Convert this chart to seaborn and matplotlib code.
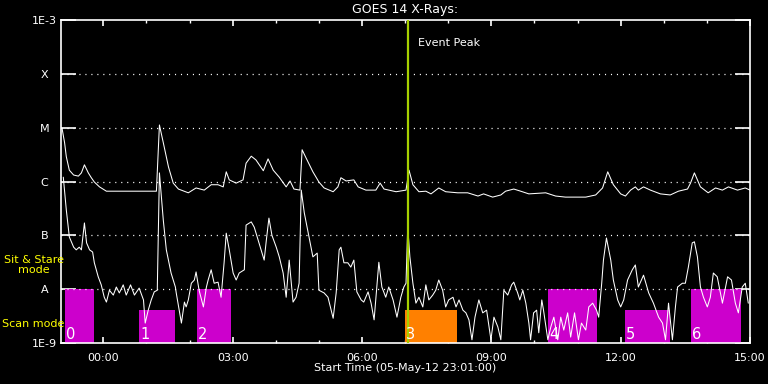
import matplotlib
matplotlib.use("Agg")
import matplotlib.pyplot as plt
import matplotlib.ticker as mticker
import numpy as np
import pandas as pd
import seaborn as sns

# time in hours after 00:00 on 06-May-12 (plot starts 05-May-12 23:01)
# flux given as log10(W/m^2)
long_t = [-0.96, -0.90, -0.86, -0.79, -0.69, -0.58, -0.51, -0.44, -0.35, -0.28,
          -0.21, -0.09, 0.07, 0.46, 0.83, 1.23, 1.30, 1.39, 1.51, 1.62,
          1.74, 1.97, 2.15, 2.34, 2.50, 2.66, 2.78, 2.85, 2.92, 3.08,
          3.24, 3.31, 3.43, 3.54, 3.71, 3.82, 3.94, 4.08, 4.24, 4.33,
          4.42, 4.56, 4.61, 4.70, 4.86, 5.00, 5.12, 5.33, 5.44, 5.51,
          5.63, 5.81, 5.91, 6.09, 6.32, 6.42, 6.51, 6.79, 7.02, 7.09,
          7.18, 7.32, 7.48, 7.60, 7.78, 7.94, 8.22, 8.45, 8.69, 8.82,
          9.03, 9.22, 9.33, 9.52, 9.68, 9.87, 10.26, 10.49, 10.72, 11.19,
          11.42, 11.58, 11.70, 11.83, 12.00, 12.11, 12.23, 12.34, 12.41, 12.53,
          12.69, 12.92, 13.15, 13.34, 13.55, 13.62, 13.71, 13.85, 14.03, 14.20,
          14.36, 14.50, 14.71, 14.89, 15.00]
long_logf = [-5.01, -5.28, -5.54, -5.79, -5.88, -5.90, -5.84, -5.69, -5.84, -5.93,
             -6.01, -6.10, -6.18, -6.18, -6.18, -6.18, -4.95, -5.28, -5.73, -6.03,
             -6.14, -6.21, -6.12, -6.16, -6.06, -6.06, -6.10, -5.82, -5.97, -6.03,
             -5.97, -5.66, -5.53, -5.60, -5.80, -5.58, -5.79, -5.92, -6.10, -5.99,
             -6.14, -6.16, -5.41, -5.56, -5.82, -6.01, -6.12, -6.19, -6.10, -5.93,
             -5.99, -5.97, -6.10, -6.16, -6.16, -6.03, -6.14, -6.19, -6.16, -5.79,
             -6.06, -6.19, -6.18, -6.23, -6.12, -6.19, -6.21, -6.21, -6.27, -6.23,
             -6.29, -6.25, -6.18, -6.14, -6.18, -6.23, -6.21, -6.27, -6.29, -6.29,
             -6.25, -6.12, -5.82, -6.06, -6.23, -6.27, -6.16, -6.10, -6.16, -6.10,
             -6.16, -6.23, -6.25, -6.18, -6.14, -6.03, -5.84, -6.10, -6.21, -6.12,
             -6.16, -6.10, -6.16, -6.12, -6.16]

short_t = [-0.93, -0.86, -0.79, -0.69, -0.63, -0.56, -0.51, -0.44, -0.39, -0.32,
           -0.25, -0.21, -0.12, -0.05, 0.02, 0.07, 0.14, 0.23, 0.30, 0.37,
           0.46, 0.53, 0.63, 0.72, 0.83, 0.93, 0.97, 1.04, 1.11, 1.18,
           1.25, 1.30, 1.39, 1.46, 1.57, 1.67, 1.69, 1.76, 1.81, 1.88,
           1.92, 1.97, 2.04, 2.11, 2.15, 2.22, 2.32, 2.39, 2.43, 2.50,
           2.57, 2.66, 2.73, 2.80, 2.85, 2.92, 3.01, 3.08, 3.15, 3.27,
           3.31, 3.43, 3.50, 3.61, 3.73, 3.78, 3.84, 3.91, 4.01, 4.08,
           4.17, 4.24, 4.31, 4.40, 4.47, 4.54, 4.59, 4.66, 4.77, 4.86,
           4.96, 5.00, 5.12, 5.21, 5.33, 5.40, 5.47, 5.51, 5.58, 5.67,
           5.74, 5.81, 5.88, 5.98, 6.04, 6.14, 6.21, 6.28, 6.35, 6.39,
           6.46, 6.55, 6.62, 6.72, 6.81, 6.90, 6.97, 7.02, 7.06, 7.11,
           7.18, 7.25, 7.32, 7.41, 7.48, 7.55, 7.64, 7.71, 7.78, 7.87,
           7.94, 8.01, 8.11, 8.18, 8.25, 8.34, 8.41, 8.48, 8.55, 8.62,
           8.71, 8.80, 8.89, 8.99, 9.06, 9.15, 9.22, 9.29, 9.38, 9.47,
           9.52, 9.61, 9.66, 9.73, 9.80, 9.87, 9.91, 9.98, 10.05, 10.10,
           10.17, 10.21, 10.31, 10.38, 10.45, 10.54, 10.61, 10.68, 10.77, 10.84,
           10.93, 11.02, 11.09, 11.19, 11.26, 11.35, 11.44, 11.49, 11.56, 11.60,
           11.67, 11.77, 11.83, 11.93, 12.00, 12.07, 12.16, 12.27, 12.34, 12.41,
           12.53, 12.65, 12.76, 12.88, 12.97, 13.04, 13.11, 13.20, 13.27, 13.32,
           13.43, 13.50, 13.57, 13.66, 13.71, 13.78, 13.85, 13.92, 14.01, 14.08,
           14.15, 14.24, 14.36, 14.48, 14.57, 14.66, 14.73, 14.82, 14.89, 14.96]
short_logf = [-5.92, -6.53, -7.03, -7.22, -7.27, -7.22, -7.27, -6.77, -7.14, -7.27,
              -7.31, -7.51, -7.77, -7.92, -8.15, -8.24, -8.02, -8.11, -7.96, -8.07,
              -7.92, -8.11, -7.92, -8.11, -7.98, -8.20, -8.63, -8.39, -8.20, -8.05,
              -8.02, -5.84, -6.72, -7.27, -7.70, -7.96, -8.07, -8.39, -8.63, -8.24,
              -8.33, -8.20, -7.89, -7.83, -7.68, -8.02, -8.33, -7.96, -7.83, -7.64,
              -7.89, -7.87, -8.15, -7.51, -6.96, -7.27, -7.70, -7.83, -7.70, -7.64,
              -6.81, -6.75, -6.85, -7.14, -7.46, -7.09, -6.68, -7.00, -7.22, -7.40,
              -7.70, -8.15, -7.46, -8.24, -8.15, -7.89, -6.16, -6.58, -7.03, -7.40,
              -7.33, -8.02, -8.07, -8.15, -8.54, -8.07, -7.27, -7.22, -7.51, -7.51,
              -7.59, -7.46, -8.05, -8.20, -8.24, -8.05, -8.26, -8.57, -7.89, -7.50,
              -7.96, -8.15, -7.96, -8.20, -8.52, -8.15, -7.96, -7.89, -6.85, -7.40,
              -7.89, -8.26, -8.15, -8.33, -7.92, -8.20, -8.11, -8.02, -7.83, -8.02,
              -8.33, -8.20, -8.15, -8.33, -8.20, -8.39, -8.44, -8.57, -8.94, -8.52,
              -8.20, -8.44, -8.39, -8.94, -8.52, -8.70, -8.94, -8.02, -8.11, -7.92,
              -7.87, -8.07, -8.20, -8.02, -8.26, -8.63, -8.94, -8.44, -8.39, -8.81,
              -8.20, -8.39, -8.94, -8.70, -8.52, -8.94, -8.52, -8.76, -8.44, -8.89,
              -8.44, -8.94, -8.63, -8.76, -8.33, -8.26, -8.39, -8.52, -7.89, -7.46,
              -7.05, -7.46, -7.83, -8.20, -8.33, -8.20, -7.83, -7.64, -7.55, -7.96,
              -7.74, -8.07, -8.26, -8.52, -8.63, -8.94, -8.26, -8.94, -8.33, -7.96,
              -7.89, -7.89, -7.59, -7.14, -7.12, -7.40, -7.96, -8.15, -8.33, -8.15,
              -7.70, -7.77, -8.26, -7.77, -7.83, -8.26, -8.44, -7.96, -7.89, -8.26]

# observing mode blocks (scan mode up to ~4e-9, sit & stare up to A level)
mode_ids = ["0", "1", "2", "3", "4", "5", "6"]
mode_start = [-0.90, 0.83, 2.18, 6.99, 10.31, 12.09, 13.62]
mode_end = [-0.21, 1.67, 2.96, 8.20, 11.46, 13.15, 14.78]
mode_top = [1e-8, 4.1e-9, 1e-8, 4.1e-9, 1e-8, 4.1e-9, 1e-8]
mode_colors = ["#cc00cc", "#cc00cc", "#cc00cc", "#ff8000", "#cc00cc", "#cc00cc", "#cc00cc"]

event_peak = 7.06

level_vals = [1e-9, 1e-8, 1e-7, 1e-6, 1e-5, 1e-4, 1e-3]
level_labels = ["1E-9", "A", "B", "C", "M", "X", "1E-3"]
hour_ticks = [0, 3, 6, 9, 12, 15]
hour_labels = ["00:00", "03:00", "06:00", "09:00", "12:00", "15:00"]

sns.set_style("ticks")
plt.rcParams["font.family"] = ["DejaVu Sans"]
plt.rcParams["lines.scale_dashes"] = False

long_df = pd.DataFrame({"t": long_t, "flux": 10 ** np.array(long_logf)})
short_df = pd.DataFrame({"t": short_t, "flux": 10 ** np.array(short_logf)})

fig = plt.figure(figsize=(7.68, 3.84), dpi=100, facecolor="black")
ax = fig.add_axes([61 / 768, 41 / 384, 689 / 768, 323 / 384])
ax.set_facecolor("black")

# mode blocks
heights = np.array(mode_top) - 1e-9
widths = np.array(mode_end) - np.array(mode_start)
ax.bar(mode_start, heights, width=widths, bottom=1e-9, align="edge",
       color=mode_colors, linewidth=0, zorder=1)
for i, lab in enumerate(mode_ids):
    ax.annotate(lab, xy=(mode_start[i], 1e-9), xytext=(1, 4),
                textcoords="offset pixels", ha="left", va="baseline",
                fontsize=10.5, color="white", zorder=5)

for lev in level_vals[1:-1]:
    ax.axhline(lev, color="white", lw=0.9, dashes=(0.8, 3.5), zorder=2)

sns.lineplot(data=long_df, x="t", y="flux", ax=ax, color="white", lw=0.75,
             estimator=None, sort=False, zorder=3)
sns.lineplot(data=short_df, x="t", y="flux", ax=ax, color="white", lw=0.75,
             estimator=None, sort=False, zorder=3)

ax.axvline(event_peak, color="#a6d000", lw=1.6, zorder=4)
ax.annotate("Event Peak", xy=(event_peak, 1e-3), xytext=(10, -23),
            textcoords="offset pixels", ha="left", va="center",
            fontsize=8, color="white")

ax.set_yscale("log")
ax.set_ylim(1e-9, 1e-3)
ax.set_xlim(-59 / 60, 15)
ax.set_xlabel("")
ax.set_ylabel("")

ax.set_yticks(level_vals)
ax.set_yticklabels(level_labels)
ax.yaxis.set_minor_locator(mticker.NullLocator())
for lbl in ax.get_yticklabels():
    lbl.set_ha("center")
ax.set_xticks(hour_ticks)
ax.set_xticklabels(hour_labels)
ax.xaxis.set_minor_locator(mticker.MultipleLocator(1))

ax.tick_params(axis="y", which="major", direction="in", length=10.5, width=1.2,
               colors="white", left=True, right=True, labelsize=8, pad=12)
ax.tick_params(axis="x", which="major", direction="in", length=4.5, width=1.2,
               colors="white", top=True, bottom=True, labelsize=8, pad=7)
ax.tick_params(axis="x", which="minor", direction="in", length=2.5, width=1.0,
               colors="white", top=True, bottom=True)
for sp in ax.spines.values():
    sp.set_color("white")
    sp.set_linewidth(1.2)

fig.text(405 / 768, 1 - 10 / 384, "GOES 14 X-Rays:", ha="center", va="center",
         color="white", fontsize=9)
fig.text(405 / 768, 1 - 368 / 384, "Start Time (05-May-12 23:01:00)",
         ha="center", va="center", color="white", fontsize=8)
fig.text(34 / 768, 1 - 265 / 384, "Sit & Stare\nmode", ha="center", va="center",
         color="yellow", fontsize=8, linespacing=1.1)
fig.text(2 / 768, 1 - 324 / 384, "Scan mode", ha="left", va="center",
         color="yellow", fontsize=8)

fig.savefig("out.png", dpi=100, facecolor="black")
